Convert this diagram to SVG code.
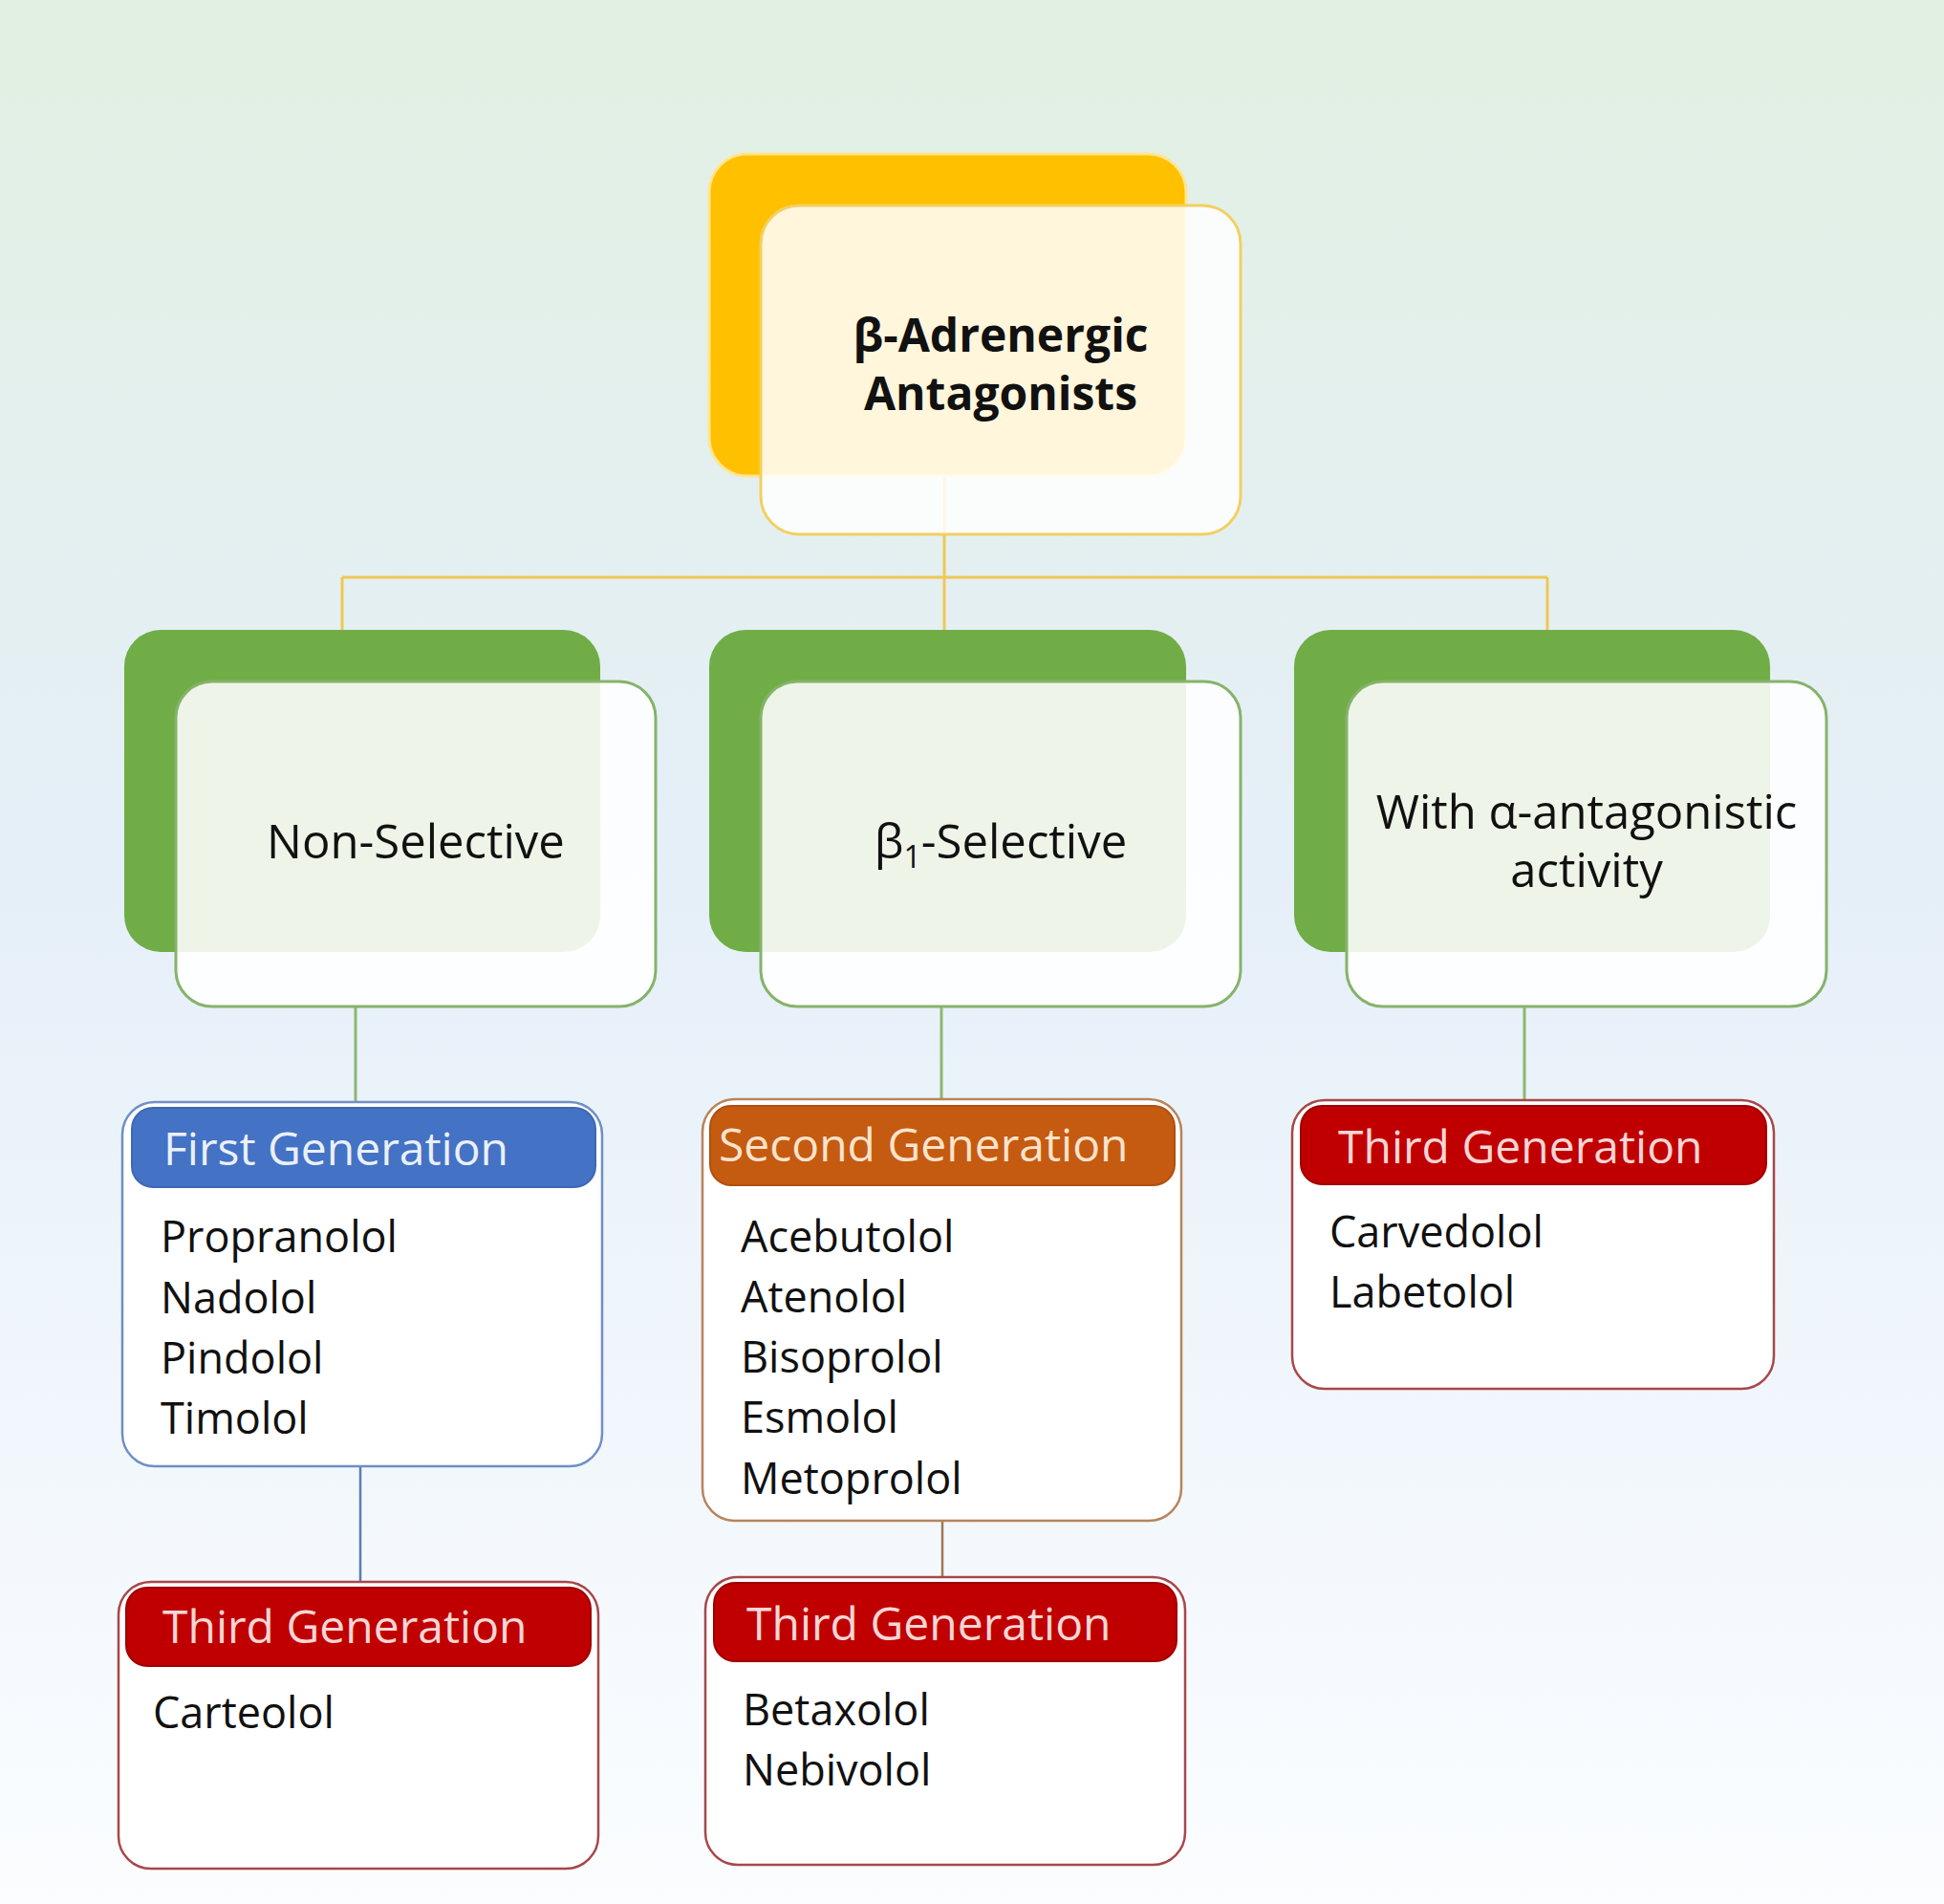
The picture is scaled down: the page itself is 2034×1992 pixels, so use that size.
<svg xmlns="http://www.w3.org/2000/svg" width="2034" height="1992" viewBox="0 0 2034 1992">
<defs>
<linearGradient id="bg" x1="0" y1="0" x2="0" y2="1">
<stop offset="0" stop-color="#E2F0E2"/>
<stop offset="0.45" stop-color="#E5EFF8"/>
<stop offset="1" stop-color="#FBFDFF"/>
</linearGradient>
<style>
text{font-family:"Open Sans","Noto Sans","DejaVu Sans",sans-serif;}
.title{font-size:49px;fill:#111;text-anchor:middle;}
.main{font-size:48px;font-weight:bold;fill:#111;text-anchor:middle;}
.hdr{font-size:48px;}
.item{font-size:45px;fill:#111;}
.backY{fill:#FFC000;stroke:#FFE590;stroke-width:3;}
.frontY{fill:#FFFFFF;fill-opacity:0.86;stroke:#F2D060;stroke-width:3;}
.backG{fill:#70AD47;}
.frontG{fill:#FFFFFF;fill-opacity:0.88;stroke:#86B36A;stroke-width:3;}
.box{fill:#FFFFFF;stroke-width:2.5;}
.cy{stroke:#EFC853;stroke-width:3;fill:none;}
.cg{stroke:#8CB870;stroke-width:3;fill:none;}
.cb{stroke:#5B7DB5;stroke-width:2.5;fill:none;}
.cbr{stroke:#A07850;stroke-width:2.5;fill:none;}
</style>
</defs>
<rect x="0" y="0" width="2034" height="1992" fill="url(#bg)"/>
<g id="connectors">
<path class="cy" d="M988 450 V604 M358 604 H1619 M358 604 V659 M988 604 V659 M1619 604 V659"/>
<path class="cg" d="M372 1053 V1154 M985 1053 V1150 M1595 1053 V1151"/>
<path class="cb" d="M377 1534 V1655"/>
<path class="cbr" d="M986 1591 V1650"/>
</g>
<g id="node-root">
<rect class="backY" x="742" y="161" width="499" height="337" rx="40"/>
<rect class="frontY" x="796" y="215" width="502" height="344" rx="40"/>
<text class="main" x="1047" y="368">β-Adrenergic</text>
<text class="main" x="1047" y="429">Antagonists</text>
</g>
<g id="node-nonselective">
<rect class="backG" x="130" y="659" width="498" height="337" rx="38"/>
<rect class="frontG" x="184" y="713" width="502" height="340" rx="38"/>
<text class="title" x="435" y="898">Non-Selective</text>
</g>
<g id="node-b1selective">
<rect class="backG" x="742" y="659" width="499" height="337" rx="38"/>
<rect class="frontG" x="796" y="713" width="502" height="340" rx="38"/>
<text class="title" x="1047" y="898">β<tspan font-size="32" dy="10">1</tspan><tspan dy="-10">-Selective</tspan></text>
</g>
<g id="node-alpha">
<rect class="backG" x="1354" y="659" width="498" height="337" rx="38"/>
<rect class="frontG" x="1409" y="713" width="502" height="340" rx="38"/>
<text class="title" x="1660" y="867">With α-antagonistic</text>
<text class="title" x="1660" y="928">activity</text>
</g>
<g id="node-first">
<rect class="box" x="128" y="1153" width="502" height="381" rx="34" stroke="#6F8FC6"/>
<rect x="138" y="1159" width="485" height="83" rx="22" fill="#4472C4" stroke="#3F68B5" stroke-width="2"/>
<text class="hdr" x="171" y="1219" fill="#EAF0FA">First Generation</text>
<text class="item" x="168" y="1310">Propranolol</text>
<text class="item" x="168" y="1374">Nadolol</text>
<text class="item" x="168" y="1437">Pindolol</text>
<text class="item" x="168" y="1500">Timolol</text>
</g>
<g id="node-second">
<rect class="box" x="735" y="1150" width="501" height="441" rx="34" stroke="#B8845A"/>
<rect x="743" y="1157" width="486" height="83" rx="22" fill="#C55A11" stroke="#B0500F" stroke-width="2"/>
<text class="hdr" x="752" y="1215" fill="#FBE3CC">Second Generation</text>
<text class="item" x="775" y="1310">Acebutolol</text>
<text class="item" x="775" y="1373">Atenolol</text>
<text class="item" x="775" y="1436">Bisoprolol</text>
<text class="item" x="775" y="1499">Esmolol</text>
<text class="item" x="775" y="1563">Metoprolol</text>
</g>
<g id="node-third-alpha">
<rect class="box" x="1352" y="1151" width="504" height="302" rx="34" stroke="#A8474A"/>
<rect x="1361" y="1157" width="487" height="82" rx="22" fill="#C00000" stroke="#A00000" stroke-width="2"/>
<text class="hdr" x="1400" y="1217" fill="#F9D6D6">Third Generation</text>
<text class="item" x="1391" y="1305">Carvedolol</text>
<text class="item" x="1391" y="1368">Labetolol</text>
</g>
<g id="node-third-nonsel">
<rect class="box" x="124" y="1655" width="502" height="300" rx="34" stroke="#A8474A"/>
<rect x="132" y="1661" width="486" height="82" rx="22" fill="#C00000" stroke="#A00000" stroke-width="2"/>
<text class="hdr" x="170" y="1719" fill="#F9D6D6">Third Generation</text>
<text class="item" x="160" y="1808">Carteolol</text>
</g>
<g id="node-third-b1">
<rect class="box" x="738" y="1650" width="502" height="301" rx="34" stroke="#A8474A"/>
<rect x="747" y="1656" width="484" height="82" rx="22" fill="#C00000" stroke="#A00000" stroke-width="2"/>
<text class="hdr" x="781" y="1716" fill="#F9D6D6">Third Generation</text>
<text class="item" x="777" y="1805">Betaxolol</text>
<text class="item" x="777" y="1868">Nebivolol</text>
</g>
</svg>
